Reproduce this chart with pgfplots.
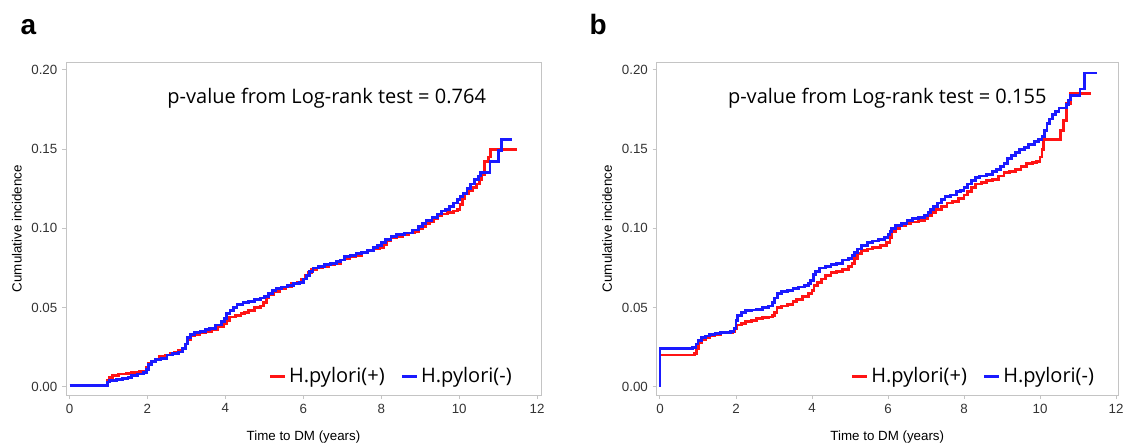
\documentclass[border=0pt]{standalone}
\usepackage{fontspec}
\setmainfont{Liberation Sans}
\newfontfamily\pfont{Open Sans}
\usepackage{pgfplots}
\pgfplotsset{compat=1.18}
\definecolor{KMred}{HTML}{FF1414}
\definecolor{KMblue}{HTML}{1A1AFF}
\definecolor{Frame}{HTML}{C4C4C4}
\definecolor{TickText}{HTML}{333333}

\pgfplotsset{kmaxis/.style={
  scale only axis, height=249.4pt,
  ymin=-0.0052, ymax=0.2047, xmin=-0.09,
  xtick={0,2,4,6,8,10,12}, ytick={0,0.05,0.1,0.15,0.2},
  yticklabel style={/pgf/number format/.cd, fixed, fixed zerofill, precision=2},
  /pgf/number format/assume math mode=true,
  tick label style={font=\fontsize{10}{12}\selectfont, color=TickText},
  axis line style={Frame, line width=0.7pt},
  tick style={Frame, line width=0.7pt},
  tick align=outside, major tick length=3pt,
  xtick pos=bottom, ytick pos=left,
  label style={font=\fontsize{11}{13}\selectfont},
  xlabel={Time to DM (years)}, ylabel={Cumulative incidence},
  legend columns=2,
  legend style={draw=none, fill=none, font=\pfont\fontsize{15}{17}\selectfont,
    anchor=east, /tikz/every even column/.append style={column sep=10pt}},
  legend image code/.code={\draw[#1, line width=2.3pt] (0pt,0pt) -- (11pt,0pt);},
  every axis plot/.append style={const plot, line width=2.1pt},
}}

\begin{document}
\begin{tikzpicture}
\useasboundingbox (0,0) rectangle (842.25pt,332.25pt);

\node[anchor=base west, font=\bfseries\fontsize{21}{21}\selectfont] at (12pt,306pt) {a};
\node[anchor=base west, font=\bfseries\fontsize{21}{21}\selectfont] at (438.75pt,306pt) {b};

% panel a
\begin{axis}[kmaxis, at={(49.5pt,36pt)}, anchor=south west,
  width=356.25pt, xmax=12.1,
  every axis x label/.style={at={(axis description cs:0.5,-0.1263)}, anchor=center},
  every axis y label/.style={at={(axis description cs:-0.1032,0.5)}, anchor=center, rotate=90},
  legend style={at={(0.953,0.057)}}]
\addplot[KMred] coordinates {
(0,0.001) (0.98,0.004) (1.02,0.006) (1.1,0.007) (1.25,0.008) (1.45,0.0085)
(1.6,0.009) (1.8,0.0095) (1.9,0.010) (1.97,0.012) (2.02,0.015) (2.1,0.016)
(2.2,0.017) (2.3,0.019) (2.45,0.020) (2.6,0.021) (2.7,0.022) (2.8,0.023)
(2.9,0.024) (2.97,0.027) (3.02,0.030) (3.1,0.032) (3.2,0.033) (3.35,0.034)
(3.5,0.035) (3.65,0.036) (3.8,0.038) (3.95,0.040) (4.02,0.042) (4.1,0.044)
(4.25,0.045) (4.4,0.046) (4.5,0.047) (4.6,0.048) (4.75,0.050) (4.9,0.051)
(4.97,0.053) (5.05,0.056) (5.12,0.058) (5.25,0.060) (5.4,0.062) (5.55,0.063)
(5.7,0.065) (5.85,0.066) (5.95,0.068) (6.05,0.070) (6.12,0.072) (6.2,0.074)
(6.35,0.075) (6.5,0.076) (6.65,0.077) (6.8,0.078) (6.95,0.080) (7.05,0.081)
(7.2,0.082) (7.35,0.083) (7.5,0.085) (7.65,0.086) (7.8,0.087) (7.95,0.088)
(8.05,0.090) (8.15,0.092) (8.25,0.094) (8.4,0.095) (8.55,0.096) (8.7,0.097)
(8.85,0.098) (8.95,0.100) (9.05,0.101) (9.15,0.103) (9.25,0.104) (9.35,0.106)
(9.45,0.108) (9.55,0.109) (9.7,0.110) (9.85,0.111) (9.95,0.112) (10.02,0.115)
(10.08,0.119) (10.15,0.122) (10.25,0.124) (10.35,0.126) (10.45,0.128)
(10.52,0.131) (10.58,0.134) (10.66,0.142) (10.75,0.145) (10.8,0.150)
(11.48,0.150)
};
\addlegendentry{H.pylori(+)}
\addplot[KMblue] coordinates {
(0,0.001) (0.98,0.003) (1.03,0.004) (1.2,0.0045) (1.35,0.005) (1.5,0.006)
(1.6,0.007) (1.75,0.008) (1.9,0.009) (1.98,0.011) (2.03,0.014) (2.1,0.016)
(2.2,0.017) (2.35,0.018) (2.5,0.020) (2.65,0.021) (2.8,0.022) (2.9,0.024)
(2.97,0.027) (3.03,0.031) (3.1,0.033) (3.2,0.034) (3.35,0.035) (3.5,0.036)
(3.6,0.037) (3.75,0.039) (3.9,0.041) (3.97,0.043) (4.03,0.046) (4.12,0.048)
(4.2,0.050) (4.3,0.052) (4.45,0.053) (4.6,0.054) (4.75,0.055) (4.9,0.056)
(5.0,0.057) (5.1,0.059) (5.2,0.061) (5.3,0.062) (5.45,0.063) (5.6,0.064)
(5.75,0.065) (5.9,0.066) (6.0,0.068) (6.08,0.070) (6.15,0.073) (6.25,0.075)
(6.4,0.076) (6.55,0.077) (6.7,0.078) (6.85,0.079) (6.95,0.080) (7.05,0.082)
(7.2,0.083) (7.35,0.084) (7.5,0.085) (7.65,0.086) (7.8,0.088) (7.9,0.089)
(8.0,0.091) (8.1,0.093) (8.25,0.095) (8.4,0.096) (8.6,0.097) (8.8,0.099)
(8.95,0.101) (9.05,0.103) (9.15,0.105) (9.3,0.107) (9.45,0.109) (9.55,0.111)
(9.65,0.112) (9.75,0.114) (9.85,0.116) (9.95,0.118) (10.02,0.120)
(10.1,0.122) (10.2,0.125) (10.3,0.128) (10.4,0.131) (10.5,0.133)
(10.54,0.135) (10.79,0.142) (11.0,0.149) (11.08,0.156) (11.35,0.156)
};
\addlegendentry{H.pylori(-)}
\node[font=\pfont\fontsize{15}{17}\selectfont] at (axis cs:6.6,0.182)
  {p-value from Log-rank test = 0.764};
\end{axis}

% panel b
\begin{axis}[kmaxis, at={(492.4pt,36pt)}, anchor=south west,
  width=346.1pt, xmax=12.05,
  every axis x label/.style={at={(axis description cs:0.5,-0.1263)}, anchor=center},
  every axis y label/.style={at={(axis description cs:-0.107,0.5)}, anchor=center, rotate=90},
  legend style={at={(0.963,0.057)}}]
\addplot[KMred] coordinates {
(0,0.020) (0.9,0.021) (0.97,0.024) (1.02,0.028) (1.1,0.030) (1.2,0.031)
(1.3,0.032) (1.45,0.033) (1.6,0.034) (1.8,0.0345) (1.9,0.035) (1.97,0.037)
(2.02,0.039) (2.15,0.040) (2.25,0.041) (2.4,0.042) (2.55,0.043) (2.7,0.0435)
(2.85,0.044) (2.95,0.045) (3.02,0.047) (3.08,0.050) (3.2,0.051) (3.35,0.052)
(3.5,0.054) (3.6,0.055) (3.75,0.057) (3.9,0.059) (4.0,0.061) (4.05,0.064)
(4.15,0.066) (4.25,0.068) (4.35,0.070) (4.5,0.072) (4.65,0.073) (4.8,0.074)
(4.95,0.076) (5.05,0.078) (5.12,0.081) (5.2,0.084) (5.3,0.086) (5.45,0.087)
(5.6,0.088) (5.8,0.089) (5.95,0.091) (6.05,0.094) (6.1,0.098) (6.2,0.100)
(6.3,0.102) (6.45,0.103) (6.6,0.104) (6.8,0.105) (6.95,0.106) (7.05,0.108)
(7.15,0.110) (7.25,0.112) (7.4,0.114) (7.55,0.116) (7.7,0.117) (7.85,0.119)
(8.0,0.121) (8.1,0.123) (8.2,0.126) (8.3,0.128) (8.45,0.129) (8.6,0.130)
(8.75,0.131) (8.9,0.133) (9.05,0.135) (9.2,0.136) (9.35,0.137) (9.5,0.139)
(9.65,0.141) (9.8,0.1415) (9.9,0.142) (10.0,0.145) (10.05,0.150)
(10.1,0.156) (10.53,0.162) (10.61,0.168) (10.7,0.179) (10.79,0.185)
(11.33,0.185)
};
\addlegendentry{H.pylori(+)}
\addplot[KMblue] coordinates {
(0,0) (0,0.024) (0.85,0.025) (0.95,0.027) (1.0,0.029) (1.1,0.031)
(1.2,0.032) (1.3,0.033) (1.45,0.0335) (1.6,0.034) (1.75,0.0345) (1.85,0.035)
(1.95,0.037) (2.0,0.042) (2.05,0.045) (2.15,0.047) (2.25,0.048) (2.4,0.0485)
(2.55,0.049) (2.7,0.050) (2.85,0.051) (2.95,0.053) (3.02,0.056) (3.1,0.059)
(3.2,0.060) (3.35,0.061) (3.5,0.062) (3.65,0.063) (3.8,0.064) (3.9,0.065)
(3.97,0.067) (4.03,0.071) (4.1,0.073) (4.2,0.075) (4.35,0.076) (4.5,0.077)
(4.65,0.078) (4.8,0.080) (4.95,0.081) (5.05,0.083) (5.12,0.085) (5.2,0.087)
(5.3,0.089) (5.45,0.091) (5.6,0.092) (5.75,0.093) (5.9,0.094) (6.0,0.096)
(6.05,0.098) (6.1,0.100) (6.2,0.102) (6.35,0.103) (6.5,0.105) (6.65,0.106)
(6.8,0.107) (6.95,0.108) (7.05,0.110) (7.12,0.112) (7.2,0.114) (7.3,0.116)
(7.4,0.118) (7.5,0.120) (7.65,0.121) (7.8,0.123) (7.9,0.124) (8.0,0.126)
(8.1,0.128) (8.2,0.130) (8.3,0.132) (8.4,0.133) (8.6,0.134) (8.75,0.136)
(8.85,0.137) (8.95,0.139) (9.05,0.141) (9.15,0.144) (9.25,0.146) (9.35,0.148)
(9.45,0.150) (9.6,0.151) (9.7,0.153) (9.85,0.155) (9.95,0.156) (10.05,0.158)
(10.12,0.162) (10.18,0.166) (10.25,0.169) (10.32,0.172) (10.4,0.174)
(10.5,0.176) (10.7,0.178) (10.75,0.181) (10.8,0.184) (11.05,0.188)
(11.16,0.198) (11.49,0.198)
};
\addlegendentry{H.pylori(-)}
\node[font=\pfont\fontsize{15}{17}\selectfont] at (axis cs:5.98,0.182)
  {p-value from Log-rank test = 0.155};
\end{axis}
\end{tikzpicture}
\end{document}
